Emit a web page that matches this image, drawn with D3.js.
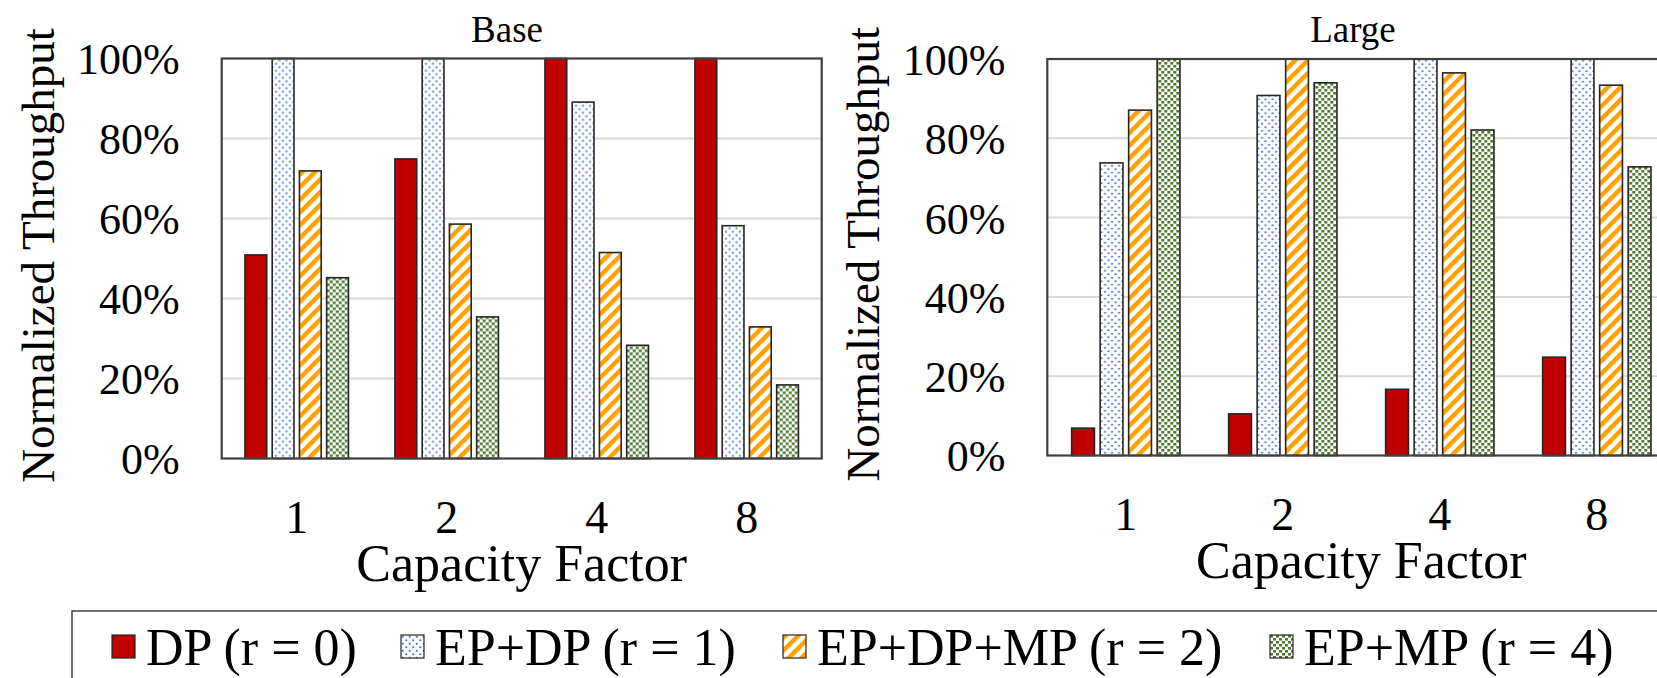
<!DOCTYPE html>
<html>
<head>
<meta charset="utf-8">
<script src="https://cdn.jsdelivr.net/npm/d3@7"></script>
<style>
  body { margin: 0; background: #fff; }
  svg, svg text { font-family: "Liberation Serif", "Times New Roman", Tinos, "DejaVu Serif", serif !important; }
</style>
</head>
<body>
<div id="chart"></div>
<script>
"use strict";

// data (percent of best)
const categories = ["1", "2", "4", "8"];
const seriesNames = ["DP (r = 0)", "EP+DP (r = 1)", "EP+DP+MP (r = 2)", "EP+MP (r = 4)"];
const yTicks = [0, 20, 40, 60, 80, 100];

const baseDP     = [50.9, 74.9, 100, 100];
const baseEPDP   = [100, 100, 89.1, 58.2];
const baseEPDPMP = [71.9, 58.6, 51.5, 32.9];
const baseEPMP   = [45.2, 35.4, 28.3, 18.4];

const largeDP     = [6.9, 10.5, 16.7, 24.8];
const largeEPDP   = [73.8, 90.8, 100, 100];
const largeEPDPMP = [87.1, 100, 96.5, 93.4];
const largeEPMP   = [100, 94.0, 82.1, 72.8];

const W = 1657, H = 678;

var svg = d3.select("#chart").append("svg")
    .attr("width", W)
    .attr("height", H);

// fill patterns
var defs = svg.append("defs");

var pDots = defs.append("pattern")
    .attr("id", "pat-dots")
    .attr("patternUnits", "userSpaceOnUse")
    .attr("width", 7).attr("height", 7);
pDots.append("rect").attr("width", 7).attr("height", 7).attr("fill", "#fff");
pDots.append("circle").attr("cx", 1.75).attr("cy", 1.75).attr("r", 1.1).attr("fill", "#4472c4");
pDots.append("circle").attr("cx", 5.25).attr("cy", 5.25).attr("r", 1.1).attr("fill", "#4472c4");

var pStripe = defs.append("pattern")
    .attr("id", "pat-stripe")
    .attr("patternUnits", "userSpaceOnUse")
    .attr("width", 9).attr("height", 9)
    .attr("patternTransform", "rotate(45)");
pStripe.append("rect").attr("width", 9).attr("height", 9).attr("fill", "#fff");
pStripe.append("rect").attr("width", 4.5).attr("height", 9).attr("fill", "#ffa000");

var pConf = defs.append("pattern")
    .attr("id", "pat-confetti")
    .attr("patternUnits", "userSpaceOnUse")
    .attr("width", 6).attr("height", 6);
pConf.append("rect").attr("width", 6).attr("height", 6).attr("fill", "#fff");
pConf.append("rect").attr("x", 0).attr("y", 0).attr("width", 3).attr("height", 2.6).attr("fill", "#4e7a2f");
pConf.append("rect").attr("x", 3).attr("y", 3).attr("width", 3).attr("height", 2.6).attr("fill", "#4e7a2f");

const fills = ["#c00000", "url(#pat-dots)", "url(#pat-stripe)", "url(#pat-confetti)"];

function drawPanel(opts) {
  var width = opts.right - opts.left,
      height = opts.bottom - opts.top;

  var g = svg.append("g")
      .attr("transform", "translate(" + opts.left + "," + opts.top + ")");

  var x0 = d3.scaleBand().domain(categories).range([0, width]);
  var bw = x0.bandwidth();
  var x1 = d3.scaleBand().domain(seriesNames)
      .range([bw * 0.155, bw * 0.845])
      .paddingInner(0.2);
  var y = d3.scaleLinear().domain([0, 100]).range([height, 0]);

  // gridlines
  g.append("g").selectAll("line")
      .data(yTicks.filter(function(t) { return t > 0 && t < 100; }))
    .enter().append("line")
      .attr("x1", 0).attr("x2", width)
      .attr("y1", function(d) { return y(d); })
      .attr("y2", function(d) { return y(d); })
      .attr("stroke", "#d9d9d9")
      .attr("stroke-width", 2);

  // bars
  var rows = categories.map(function(c, i) {
    return { cat: c, vals: opts.series.map(function(s) { return s[i]; }) };
  });

  var groups = g.selectAll(".grp")
      .data(rows)
    .enter().append("g")
      .attr("class", "grp")
      .attr("transform", function(d) { return "translate(" + x0(d.cat) + ",0)"; });

  groups.selectAll("rect")
      .data(function(d) { return d.vals.map(function(v, k) { return { k: k, v: v }; }); })
    .enter().append("rect")
      .attr("x", function(d) { return x1(seriesNames[d.k]); })
      .attr("width", x1.bandwidth())
      .attr("y", function(d) { return y(d.v); })
      .attr("height", function(d) { return height - y(d.v); })
      .attr("fill", function(d) { return fills[d.k]; })
      .attr("stroke", "#262626")
      .attr("stroke-width", 1.6);

  // frame
  g.append("rect")
      .attr("width", width).attr("height", height)
      .attr("fill", "none")
      .attr("stroke", "#404040")
      .attr("stroke-width", 2.2);

  // y axis labels
  var yAxis = g.append("g")
      .attr("transform", "translate(-42,0)")
      .call(d3.axisLeft(y).tickValues(yTicks).tickSize(0).tickFormat(function(d) { return d + "%"; }));
  yAxis.attr("font-family", null);
  yAxis.select(".domain").remove();
  yAxis.selectAll("text")
      .attr("x", 0)
      .attr("dy", "0.35em")
      .style("font-size", "44px")
      .attr("fill", "#000");

  // x axis labels
  var xAxis = g.append("g")
      .attr("transform", "translate(0," + height + ")")
      .call(d3.axisBottom(x0).tickSize(0));
  xAxis.attr("font-family", null);
  xAxis.select(".domain").remove();
  xAxis.selectAll("text")
      .attr("y", 74)
      .attr("dy", 0)
      .style("font-size", "46px")
      .attr("fill", "#000");

  // axis titles
  g.append("text")
      .attr("x", width / 2)
      .attr("y", height + 122)
      .attr("text-anchor", "middle")
      .style("font-size", "52px")
      .text("Capacity Factor");

  g.append("text")
      .attr("transform", "translate(-168," + (height / 2 - 3) + ") rotate(-90)")
      .attr("text-anchor", "middle")
      .style("font-size", "47px")
      .text("Normalized Throughput");

  // panel title
  svg.append("text")
      .attr("x", opts.titleX)
      .attr("y", 42)
      .attr("text-anchor", "middle")
      .style("font-size", "37px")
      .text(opts.title);
}

drawPanel({
  title: "Base", titleX: 507,
  left: 221.7, right: 821.7, top: 58.5, bottom: 458.5,
  series: [baseDP, baseEPDP, baseEPDPMP, baseEPMP]
});

drawPanel({
  title: "Large", titleX: 1353,
  left: 1047.3, right: 1675.3, top: 59, bottom: 455.5,
  series: [largeDP, largeEPDP, largeEPDPMP, largeEPMP]
});

// legend
var legend = svg.append("g");
legend.append("rect")
    .attr("x", 72).attr("y", 611)
    .attr("width", 1640).attr("height", 100)
    .attr("fill", "#fff")
    .attr("stroke", "#404040")
    .attr("stroke-width", 1.5);

const legendX = [112, 401, 783, 1270];
var items = legend.selectAll(".item")
    .data(seriesNames)
  .enter().append("g")
    .attr("class", "item")
    .attr("transform", function(d, i) { return "translate(" + legendX[i] + ",635)"; });

items.append("rect")
    .attr("width", 23).attr("height", 23)
    .attr("fill", function(d, i) { return fills[i]; })
    .attr("stroke", "#262626")
    .attr("stroke-width", 1.2);

items.append("text")
    .attr("x", 34)
    .attr("y", 12)
    .attr("dy", "0.35em")
    .style("font-size", "52px")
    .text(function(d) { return d; });
</script>
</body>
</html>
